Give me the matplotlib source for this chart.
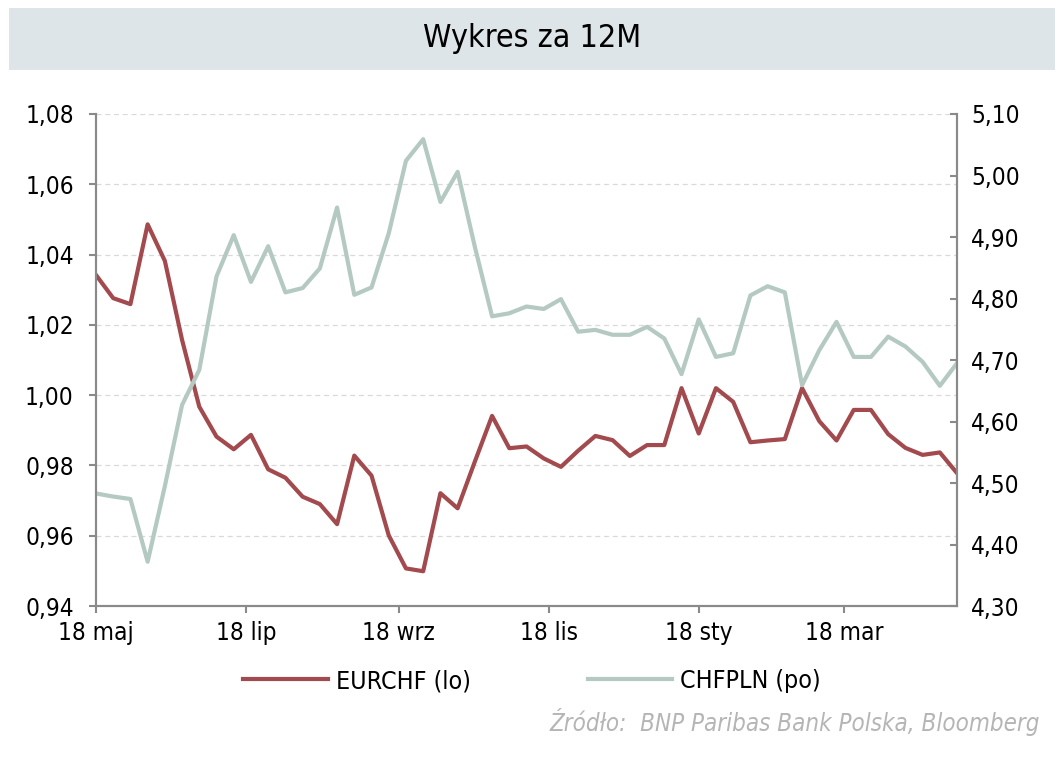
import numpy as np
import pandas as pd
import matplotlib
matplotlib.use('Agg')
import matplotlib.pyplot as plt
from matplotlib.patches import Rectangle

# weekly observations, 18 May -> early May
start = '2022-05-18'
eurchf = [1.0342, 1.0276, 1.0259, 1.0486, 1.0382, 1.0157, 0.9967, 0.9882, 0.9846, 0.9887,
          0.9789, 0.9765, 0.9711, 0.9690, 0.9633, 0.9828, 0.9771, 0.9601, 0.9507, 0.9499,
          0.9721, 0.9678, 0.9811, 0.9941, 0.9849, 0.9854, 0.9820, 0.9796, 0.9842, 0.9884,
          0.9872, 0.9827, 0.9858, 0.9858, 1.0020, 0.9891, 1.0020, 0.9981, 0.9866, 0.9871,
          0.9875, 1.0020, 0.9926, 0.9871, 0.9958, 0.9958, 0.9889, 0.9850, 0.9830, 0.9837,
          0.9778]
chfpln = [4.483, 4.478, 4.474, 4.372, 4.495, 4.627, 4.684, 4.836, 4.903, 4.827,
          4.885, 4.810, 4.817, 4.849, 4.948, 4.806, 4.818, 4.906, 5.024, 5.059,
          4.957, 5.006, 4.884, 4.771, 4.776, 4.787, 4.783, 4.799, 4.746, 4.749,
          4.741, 4.741, 4.754, 4.735, 4.677, 4.766, 4.705, 4.711, 4.805, 4.820,
          4.810, 4.659, 4.716, 4.762, 4.705, 4.705, 4.738, 4.722, 4.697, 4.658,
          4.695]
tick_dates = ['2022-05-18', '2022-07-18', '2022-09-18', '2022-11-18', '2023-01-18', '2023-03-18']
tick_labels = ['18 maj', '18 lip', '18 wrz', '18 lis', '18 sty', '18 mar']
left_ticks = [0.94, 0.96, 0.98, 1.00, 1.02, 1.04, 1.06, 1.08]
right_ticks = [4.30, 4.40, 4.50, 4.60, 4.70, 4.80, 4.90, 5.00, 5.10]

red = '#a24a4e'
green = '#b3c9c1'
axis_grey = '#8a8a8a'
plt.rcParams['font.family'] = ['DejaVu Sans']
plt.rcParams['font.stretch'] = 'condensed'

dates = pd.date_range(start, periods=len(eurchf), freq='7D')

fig = plt.figure(figsize=(10.64, 7.6), dpi=100)
ax = fig.add_axes([0.0902, 0.2026, 0.8093, 0.6474])
ax2 = ax.twinx()

l1, = ax.plot(dates, eurchf, color=red, lw=3, label='EURCHF (lo)', zorder=3)
l2, = ax2.plot(dates, chfpln, color=green, lw=3, label='CHFPLN (po)', zorder=2)

ax.set_xlim(dates[0], dates[-1])
ax.set_ylim(0.94, 1.08)
ax2.set_ylim(4.30, 5.10)
ax.set_yticks(left_ticks)
ax.set_yticklabels([f'{v:.2f}'.replace('.', ',') for v in left_ticks])
ax2.set_yticks(right_ticks)
ax2.set_yticklabels([f'{v:.2f}'.replace('.', ',') for v in right_ticks])
ax.set_xticks(pd.to_datetime(tick_dates))
ax.set_xticklabels(tick_labels)

ax.grid(axis='y', color='#d9d9d9', ls=(0, (4, 3)), lw=0.9)
ax.set_axisbelow(True)
for a in (ax, ax2):
    a.spines['top'].set_visible(False)
    for s in ('left', 'right', 'bottom'):
        a.spines[s].set_color(axis_grey)
        a.spines[s].set_linewidth(1.5)
ax.tick_params(axis='x', labelsize=17.5, color=axis_grey, width=1.5, length=5, direction='out', pad=6)
ax.tick_params(axis='y', labelsize=17.5, color=axis_grey, width=1.5, length=5, direction='out', pad=11)
ax2.tick_params(axis='y', labelsize=17.5, color=axis_grey, width=1.5, length=5, direction='in', pad=10)

# title banner
fig.patches.append(Rectangle((9 / 1064, 1 - 70 / 760), 1046 / 1064, 62 / 760,
                             transform=fig.transFigure, facecolor='#dde5e8', edgecolor='none'))
fig.text(0.5, 1 - 38 / 760, 'Wykres za 12M', ha='center', va='center', fontsize=23)

fig.legend(handles=[l1, l2], loc='center', bbox_to_anchor=(0.5, 1 - 681 / 760), ncol=2,
           frameon=False, fontsize=17.9, handlelength=3.4, columnspacing=4.7, handletextpad=0.32)
fig.text(1040 / 1064, 1 - 722 / 760, 'Źródło:  BNP Paribas Bank Polska, Bloomberg',
         ha='right', va='center', fontsize=17.3, style='italic', color='#b5b5b5')

fig.savefig('out.png', dpi=100)
